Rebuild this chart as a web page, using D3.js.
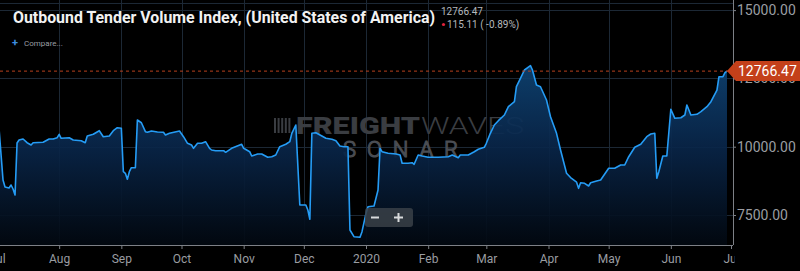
<!DOCTYPE html>
<html>
<head>
<meta charset="utf-8">
<script src="https://cdn.jsdelivr.net/npm/d3@7"></script>
<style>
  html, body { margin: 0; padding: 0; background: #000; }
  svg { display: block; font-family: Roboto, "Noto Sans", sans-serif; }
</style>
</head>
<body>
<svg id="chart" width="800" height="271"></svg>
<script>
// Series data
const dates = [
  "2019-07-02","2019-07-04","2019-07-05","2019-07-07","2019-07-08","2019-07-09","2019-07-10","2019-07-11",
  "2019-07-12","2019-07-14","2019-07-16","2019-07-18","2019-07-19","2019-07-24","2019-07-27","2019-07-29",
  "2019-07-31","2019-08-01","2019-08-02","2019-08-06","2019-08-08","2019-08-12","2019-08-14","2019-08-15",
  "2019-08-18","2019-08-21","2019-08-23","2019-08-26","2019-08-28","2019-08-30","2019-09-01","2019-09-02",
  "2019-09-03","2019-09-04","2019-09-05","2019-09-06","2019-09-08","2019-09-09","2019-09-11","2019-09-13",
  "2019-09-14","2019-09-16","2019-09-19","2019-09-22","2019-09-23","2019-09-25","2019-09-30","2019-10-02",
  "2019-10-04","2019-10-06","2019-10-07","2019-10-09","2019-10-11","2019-10-13","2019-10-15","2019-10-16",
  "2019-10-18","2019-10-22","2019-10-23","2019-10-26","2019-10-31","2019-11-01","2019-11-04","2019-11-05",
  "2019-11-08","2019-11-10","2019-11-13","2019-11-15","2019-11-17","2019-11-19","2019-11-22","2019-11-24",
  "2019-11-25","2019-11-27","2019-11-29","2019-12-02","2019-12-03","2019-12-04","2019-12-05","2019-12-07",
  "2019-12-10","2019-12-12","2019-12-15","2019-12-17","2019-12-19","2019-12-21","2019-12-23","2019-12-24",
  "2019-12-26","2019-12-29","2019-12-30","2020-01-01","2020-01-02","2020-01-05","2020-01-07","2020-01-08",
  "2020-01-09","2020-01-12","2020-01-16","2020-01-18","2020-01-19","2020-01-22","2020-01-24","2020-01-25",
  "2020-01-27","2020-01-29","2020-02-01","2020-02-06","2020-02-11","2020-02-13","2020-02-16","2020-02-17",
  "2020-02-21","2020-02-24","2020-02-26","2020-02-29","2020-03-01","2020-03-03","2020-03-05","2020-03-07",
  "2020-03-10","2020-03-12","2020-03-15","2020-03-16","2020-03-18","2020-03-20","2020-03-23","2020-03-24",
  "2020-03-26","2020-03-28","2020-03-31","2020-04-02","2020-04-05","2020-04-07","2020-04-10","2020-04-12",
  "2020-04-15","2020-04-16","2020-04-17","2020-04-19","2020-04-21","2020-04-22","2020-04-25","2020-04-27",
  "2020-05-01","2020-05-04","2020-05-07","2020-05-09","2020-05-11","2020-05-14","2020-05-17","2020-05-20",
  "2020-05-22","2020-05-24","2020-05-25","2020-05-26","2020-05-28","2020-05-30","2020-06-01","2020-06-03",
  "2020-06-06","2020-06-08","2020-06-09","2020-06-11","2020-06-14","2020-06-16","2020-06-19","2020-06-21",
  "2020-06-24","2020-06-25","2020-06-27","2020-06-28","2020-06-29"
];
const values = [
  10670, 8781, 8525, 8488, 8598, 8452, 8232, 10135,
  10245, 10282, 10146, 10062, 10146, 10161, 10282, 10282,
  10329, 10454, 10307, 10329, 10245, 10220, 10146, 10392,
  10454, 10586, 10366, 10392, 10586, 10695, 10673, 9085,
  9026, 8807, 9085, 9231, 9231, 10977, 10878, 10549,
  10527, 10575, 10538, 10527, 10428, 10490, 10575, 10366,
  10124, 10062, 9941, 10124, 10124, 10183, 9941, 9879,
  9854, 9854, 9795, 9941, 10088, 9941, 9817, 9660,
  9733, 9733, 9612, 9634, 9696, 10000, 10088, 10183,
  10490, 10794, 7866, 7866, 7683, 7343, 10490, 10512,
  10392, 10307, 10271, 10220, 10026, 10000, 10000, 6951,
  6706, 6684, 6889, 7562, 7804, 7830, 8415, 9941,
  9817, 9758, 9733, 9696, 9392, 9392, 9414, 9356,
  9696, 9660, 9612, 9612, 9634, 9696, 9597, 9696,
  9696, 9817, 9905, 9978, 10124, 10490, 10794, 10952,
  11160, 11464, 11647, 12196, 12503, 12807, 12965, 12807,
  12258, 12196, 11709, 11098, 10490, 9879, 9026, 8870,
  8700, 8477, 8682, 8660, 8562, 8682, 8745, 8781,
  9209, 9209, 9330, 9330, 9634, 9978, 10088, 10366,
  10465, 10490, 8843, 9085, 9660, 9660, 11369, 11039,
  11061, 11160, 11526, 11160, 11186, 11281, 11464, 11647,
  12075, 12562, 12562, 12708, 12766.47
];
const yTicks = [7500, 10000, 12500, 15000];
const monthTicks = ["2019-07-01","2019-08-01","2019-09-01","2019-10-01","2019-11-01","2019-12-01",
  "2020-01-01","2020-02-01","2020-03-01","2020-04-01","2020-05-01","2020-06-01","2020-07-01"];
const monthLabels = ["Jul","Aug","Sep","Oct","Nov","Dec","2020","Feb","Mar","Apr","May","Jun","Jul"];
const lastValue = 12766.47;

const parse = d3.timeParse("%Y-%m-%d");
const data = dates.map((d, i) => ({ date: parse(d), value: values[i] }));

const svg = d3.select("#chart");
const plotRight = 733, plotBottom = 245;

const x = d3.scaleTime()
  .domain([parse("2019-07-01"), parse("2020-07-01")])
  .range([-3, 731]);
const y = d3.scaleLinear()
  .domain([10000, 12500])
  .range([146.7, 78.4]);

// defs: area gradient + clips
const defs = svg.append("defs");
const grad = defs.append("linearGradient")
  .attr("id", "areaGrad")
  .attr("gradientUnits", "userSpaceOnUse")
  .attr("x1", 0).attr("y1", y(13000)).attr("x2", 0).attr("y2", plotBottom);
grad.append("stop").attr("offset", "0%").attr("stop-color", "#0e4373");
grad.append("stop").attr("offset", "45%").attr("stop-color", "#09264a");
grad.append("stop").attr("offset", "100%").attr("stop-color", "#020810");

defs.append("clipPath").attr("id", "plotClip")
  .append("rect").attr("x", 0).attr("y", 0).attr("width", plotRight).attr("height", plotBottom);
defs.append("clipPath").attr("id", "xAxisClip")
  .append("rect").attr("x", -10).attr("y", -2).attr("width", plotRight + 11.5).attr("height", 30);

// Grid
const grid = svg.append("g");
grid.selectAll("line.v")
  .data(monthTicks.slice(1, -1))
  .join("line")
  .attr("x1", d => Math.round(x(parse(d))) + 0.5).attr("x2", d => Math.round(x(parse(d))) + 0.5)
  .attr("y1", 0).attr("y2", plotBottom)
  .attr("stroke", "#1c2835").attr("stroke-width", 1);
grid.selectAll("line.h")
  .data(yTicks)
  .join("line")
  .attr("x1", 0).attr("x2", plotRight)
  .attr("y1", d => Math.round(y(d)) + 0.5).attr("y2", d => Math.round(y(d)) + 0.5)
  .attr("stroke", "#1c2835").attr("stroke-width", 1);
grid.append("line")
  .attr("x1", 0).attr("x2", plotRight).attr("y1", 3.5).attr("y2", 3.5)
  .attr("stroke", "#1c2835");

// Watermark
const wm = svg.append("g").attr("fill", "#3a3d42");
wm.append("text")
  .attr("x", 296).attr("y", 134)
  .attr("font-size", 23).attr("font-weight", 900)
  .attr("textLength", 124).attr("lengthAdjust", "spacingAndGlyphs")
  .text("FREIGHT");
wm.append("text")
  .attr("x", 421).attr("y", 134)
  .attr("font-size", 23).attr("font-weight", 300)
  .attr("textLength", 103).attr("lengthAdjust", "spacingAndGlyphs")
  .text("WAVES");
wm.append("text")
  .attr("x", 343).attr("y", 157)
  .attr("font-size", 22).attr("font-weight", 300)
  .attr("fill", "none").attr("stroke", "#4a4d53").attr("stroke-width", 1.2)
  .attr("textLength", 115).attr("lengthAdjust", "spacing")
  .text("SONAR");
for (let i = 0; i < 5; i++) {
  wm.append("rect").attr("x", 274 + i * 3.6).attr("y", 118).attr("width", 2).attr("height", 15);
}

// Area + line
const area = d3.area()
  .x(d => x(d.date)).y0(plotBottom).y1(d => y(d.value));
const line = d3.line()
  .x(d => x(d.date)).y(d => y(d.value));

const plot = svg.append("g").attr("clip-path", "url(#plotClip)");
plot.append("path").datum(data)
  .attr("d", area).attr("fill", "url(#areaGrad)").attr("fill-opacity", 0.92);
plot.append("path").datum(data)
  .attr("d", line).attr("fill", "none")
  .attr("stroke", "#259cf5").attr("stroke-width", 1.6).attr("stroke-linejoin", "round");

// Last value dashed line
svg.append("line")
  .attr("x1", 0).attr("x2", plotRight)
  .attr("y1", y(lastValue)).attr("y2", y(lastValue))
  .attr("stroke", "#b8401e").attr("stroke-width", 1).attr("stroke-dasharray", "3,3");

// Axes
const xAxis = d3.axisBottom(x)
  .tickValues(monthTicks.map(parse))
  .tickFormat((d, i) => monthLabels[i])
  .tickSize(4).tickSizeOuter(0);
const gx = svg.append("g").attr("transform", `translate(0,${plotBottom})`)
  .attr("clip-path", "url(#xAxisClip)").call(xAxis);
gx.select(".domain").attr("stroke", "#7d8086").attr("d", `M0,0.5H${plotRight}`);
gx.selectAll(".tick line").attr("stroke", "#7d8086");
gx.selectAll(".tick text").attr("fill", "#9a9da2").attr("font-size", 12)
  .attr("font-family", "Roboto, sans-serif").attr("dy", "0.95em");

const yAxis = d3.axisRight(y)
  .tickValues(yTicks)
  .tickFormat(d3.format(".2f"))
  .tickSize(3).tickSizeOuter(0);
const gy = svg.append("g").attr("transform", `translate(${plotRight},0)`).call(yAxis);
gy.select(".domain").attr("stroke", "#7d8086").attr("d", `M0.5,0V${plotBottom}`);
gy.selectAll(".tick line").attr("stroke", "#7d8086");
gy.selectAll(".tick text").attr("fill", "#9a9da2").attr("font-size", 14)
  .attr("font-family", "Roboto, sans-serif").attr("x", 4);

// Last value tag
const tagY = y(lastValue);
svg.append("path")
  .attr("d", `M${plotRight - 6},${tagY} L${plotRight + 3},${tagY - 10} H800 V${tagY + 10} H${plotRight + 3} Z`)
  .attr("fill", "#c4401a");
svg.append("text")
  .attr("x", plotRight + 5).attr("y", tagY).attr("dy", "0.36em")
  .attr("fill", "#fff").attr("font-size", 14)
  .text(d3.format(".2f")(lastValue));

// Title and header
svg.append("text")
  .attr("x", 13).attr("y", 23)
  .attr("fill", "#f2f2f2").attr("font-size", 17).attr("font-weight", 700)
  .attr("textLength", 422).attr("lengthAdjust", "spacingAndGlyphs")
  .text("Outbound Tender Volume Index, (United States of America)");
svg.append("text")
  .attr("x", 441).attr("y", 15)
  .attr("fill", "#b5b8bc").attr("font-size", 10)
  .text("12766.47");
svg.append("circle").attr("cx", 443.5).attr("cy", 24.5).attr("r", 1.6).attr("fill", "#e0223a");
svg.append("text")
  .attr("x", 447).attr("y", 28)
  .attr("fill", "#b5b8bc").attr("font-size", 10)
  .text("115.11 ( -0.89%)");
svg.append("text")
  .attr("x", 12).attr("y", 46)
  .attr("fill", "#3d8de0").attr("font-size", 11).attr("font-weight", 700)
  .text("+");
svg.append("text")
  .attr("x", 24).attr("y", 45.5)
  .attr("fill", "#9a9da2").attr("font-size", 8)
  .text("Compare...");

// Zoom buttons
const zb = svg.append("g");
zb.append("rect")
  .attr("x", 365).attr("y", 208).attr("width", 48).attr("height", 19).attr("rx", 3)
  .attr("fill", "#3a4148").attr("fill-opacity", 0.85);
zb.append("rect").attr("x", 371).attr("y", 216.5).attr("width", 8).attr("height", 2).attr("fill", "#d8dadc");
zb.append("rect").attr("x", 394).attr("y", 216.5).attr("width", 9).attr("height", 2).attr("fill", "#d8dadc");
zb.append("rect").attr("x", 397.5).attr("y", 213).attr("width", 2).attr("height", 9).attr("fill", "#d8dadc");
</script>
</body>
</html>
